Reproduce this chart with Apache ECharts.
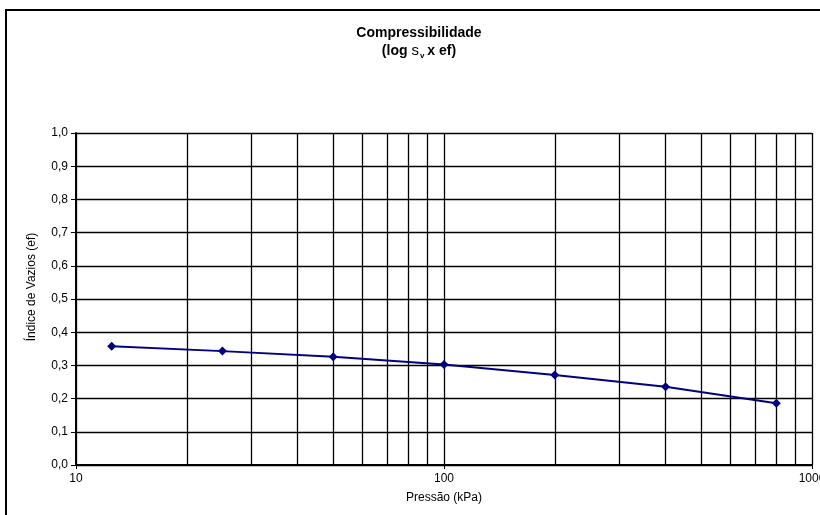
<!DOCTYPE html>
<html>
<head>
<meta charset="utf-8">
<script src="https://cdn.jsdelivr.net/npm/echarts@6/dist/echarts.min.js"></script>
<style>html,body{margin:0;padding:0;background:#fff;}#c{width:820px;height:515px;}</style>
</head>
<body>
<div id="c"></div>
<script>
var pressures = [12.5, 25, 50, 100, 200, 400, 800];
var voidRatios = [0.358, 0.343, 0.326, 0.303, 0.271, 0.236, 0.186];
var minorGridX = [20, 30, 40, 50, 60, 70, 80, 90, 200, 300, 400, 500, 600, 700, 800, 900];
var xTicks = [10, 100, 1000];
var yTicks = [0, 0.1, 0.2, 0.3, 0.4, 0.5, 0.6, 0.7, 0.8, 0.9, 1.0];

var FONT = 'Liberation Sans, Arial, sans-serif';
var chart = echarts.init(document.getElementById('c'), null, {renderer: 'canvas'});
chart.setOption({
  backgroundColor: '#fff',
  animation: false,
  grid: {left: 76, right: 8, top: 133, bottom: 50, containLabel: false, outerBoundsMode: 'none'},
  graphic: [
    {type: 'rect', shape: {x: 6, y: 10, width: 900, height: 600}, style: {fill: 'none', stroke: '#000', lineWidth: 2}, z: 0},
    {type: 'text', x: 419, y: 24, style: {
      text: '{b|Compressibilidade}\n{b|(log }{s|s}{v|v}{b|x ef)}',
      textAlign: 'center', fill: '#000',
      rich: {
        b: {fontFamily: FONT, fontWeight: 'bold', fontSize: 14, lineHeight: 18},
        s: {fontFamily: FONT, fontWeight: 'normal', fontSize: 15, lineHeight: 18},
        v: {fontFamily: FONT, fontWeight: 'bold', fontSize: 8, lineHeight: 18, verticalAlign: 'bottom', padding: [0, 3, 0, 1]}
      }
    }, z: 10},
    {type: 'text', x: 32, y: 287, rotation: Math.PI / 2, style: {
      text: 'Índice de Vazios (ef)', fontFamily: FONT, fontSize: 12, fill: '#000',
      textAlign: 'center', textVerticalAlign: 'middle'
    }, z: 10}
  ],
  xAxis: {
    type: 'log', logBase: 10, min: xTicks[0], max: xTicks[xTicks.length - 1],
    name: 'Pressão (kPa)', nameLocation: 'middle', nameGap: 27,
    nameTextStyle: {fontFamily: FONT, fontSize: 12, color: '#000'},
    axisLine: {lineStyle: {color: '#000', width: 2}},
    axisTick: {show: true, length: 4, lineStyle: {color: '#000', width: 1}},
    axisLabel: {fontFamily: FONT, fontSize: 12, color: '#000', margin: 8,
      formatter: function (v) { return String(Math.round(v)); }},
    splitLine: {show: true, lineStyle: {color: '#000', width: 1.3}},
    minorTick: {show: false}
  },
  yAxis: {
    type: 'value', min: yTicks[0], max: yTicks[yTicks.length - 1], interval: 0.1,
    axisLine: {show: true, lineStyle: {color: '#000', width: 2}},
    axisTick: {show: true, length: 5, lineStyle: {color: '#000', width: 1}},
    axisLabel: {fontFamily: FONT, fontSize: 12, color: '#000', margin: 8,
      formatter: function (v) { return v.toFixed(1).replace('.', ','); }},
    splitLine: {show: true, lineStyle: {color: '#000', width: 1.3}}
  },
  series: [
    {
      type: 'line', data: [], silent: true, z: 1,
      markLine: {
        silent: true, symbol: 'none', animation: false,
        label: {show: false},
        lineStyle: {color: '#000', type: 'solid', width: 1.3},
        data: minorGridX.map(function (v) { return {xAxis: v}; })
      }
    },
    {
      type: 'line', z: 5,
      data: pressures.map(function (p, i) { return [p, voidRatios[i]]; }),
      symbol: 'diamond', symbolSize: 9,
      itemStyle: {color: '#000080'},
      lineStyle: {color: '#000080', width: 2}
    }
  ]
});
</script>
</body>
</html>
